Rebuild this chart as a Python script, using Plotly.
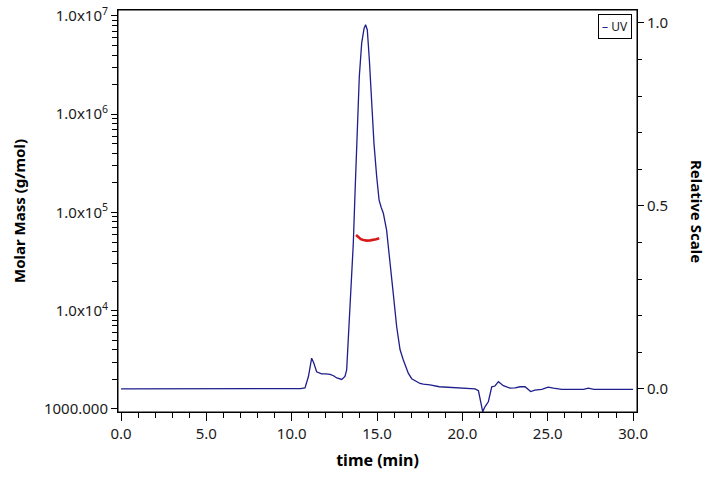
import plotly.graph_objects as go

# UV trace (relative scale, right axis)
uv_time = [0.0, 2.0, 4.0, 6.0, 8.0, 9.9, 10.5, 10.78, 10.98, 11.17, 11.3, 11.46, 11.75, 12.0,
           12.25, 12.45, 12.64, 12.93, 13.12, 13.22, 13.31, 13.42, 13.51, 13.61, 13.71, 13.81,
           13.96, 14.10, 14.24, 14.33, 14.43, 14.55, 14.69, 14.82, 14.98, 15.12, 15.25, 15.37,
           15.56, 15.76, 15.95, 16.15, 16.35, 16.54, 16.83, 17.03, 17.22, 17.52, 17.71, 18.1,
           18.65, 19.2, 19.86, 20.45, 20.74, 20.94, 21.03, 21.19, 21.33, 21.52, 21.72, 21.91,
           22.11, 22.4, 22.79, 23.09, 23.38, 23.67, 24.0, 24.25, 24.65, 25.03, 25.33, 25.82,
           26.5, 27.1, 27.38, 27.7, 28.5, 29.3, 30.0]
uv_value = [0.0, 0.0, 0.0, 0.0, 0.0, 0.0, 0.001, 0.003, 0.034, 0.084, 0.07, 0.047, 0.041, 0.041,
            0.040, 0.036, 0.030, 0.026, 0.034, 0.052, 0.125, 0.216, 0.307, 0.398, 0.535, 0.671,
            0.853, 0.945, 0.985, 0.995, 0.981, 0.899, 0.762, 0.671, 0.58, 0.516, 0.495, 0.48,
            0.434, 0.352, 0.261, 0.17, 0.107, 0.079, 0.043, 0.028, 0.022, 0.015, 0.013, 0.011,
            0.006, 0.004, 0.002, 0.001, 0.0, -0.005, -0.03, -0.062, -0.048, -0.035, 0.006, 0.008,
            0.02, 0.009, 0.002, 0.003, 0.006, 0.006, -0.007, -0.003, -0.001, 0.005, 0.002, -0.001,
            -0.001, -0.001, 0.002, -0.001, -0.001, -0.001, -0.001]

# molar mass across the main peak (left log axis)
mm_time = [13.77, 13.9, 14.05, 14.2, 14.4, 14.6, 14.78, 14.95, 15.13]
mm_value = [5.9e4, 5.6e4, 5.35e4, 5.25e4, 5.17e4, 5.2e4, 5.25e4, 5.35e4, 5.46e4]

mm_ticks = [1e3, 1e4, 1e5, 1e6, 1e7]
mm_ticktext = ["1000.000", "1.0x10<sup>4</sup>", "1.0x10<sup>5</sup>",
               "1.0x10<sup>6</sup>", "1.0x10<sup>7</sup>"]
mm_minor = [m * 10 ** k for k in range(3, 7) for m in range(2, 10)]

font_name = "Noto Sans"
navy = "#1e1e8c"

fig = go.Figure()
fig.add_trace(go.Scatter(x=uv_time, y=uv_value, mode="lines", name="UV",
                         line=dict(color=navy, width=1.3), yaxis="y2"))
fig.add_trace(go.Scatter(x=mm_time, y=mm_value, mode="lines", name="Molar Mass",
                         line=dict(color="#d81818", width=2.6), yaxis="y"))

fig.update_layout(
    width=720, height=479,
    margin=dict(l=118, r=83, t=10, b=67),
    paper_bgcolor="white", plot_bgcolor="white",
    showlegend=False,
    font=dict(family=font_name, size=15, color="#1a1a1a"),
    xaxis=dict(
        range=[-0.176, 30.23], tickvals=[0, 5, 10, 15, 20, 25, 30], tickformat=".1f",
        showline=True, linecolor="black", linewidth=1, mirror=True, automargin=False,
        ticks="outside", ticklen=8, tickcolor="black", showgrid=False, zeroline=False,
        minor=dict(dtick=1, tick0=0, ticks="outside", ticklen=5, tickcolor="black", showgrid=False),
        title=dict(text="<b>time (min)</b>", font=dict(size=16, color="black"), standoff=12),
    ),
    yaxis=dict(
        type="log", range=[2.969, 7.061],
        tickvals=mm_ticks, ticktext=mm_ticktext, automargin=False,
        showline=True, linecolor="black", linewidth=1,
        ticks="outside", ticklen=6, tickcolor="black", showgrid=False, zeroline=False,
        minor=dict(tickvals=mm_minor, ticks="outside", ticklen=5, tickcolor="black", showgrid=False),
        title=dict(text="<b>Molar Mass (g/mol)</b>", font=dict(size=15, color="black"), standoff=14),
    ),
    yaxis2=dict(
        overlaying="y", side="right", range=[-0.063, 1.0355],
        tickvals=[0.0, 0.5, 1.0], tickformat=".1f", automargin=False,
        showline=True, linecolor="black", linewidth=1,
        ticks="outside", ticklen=6, tickcolor="black", showgrid=False, zeroline=False,
        minor=dict(dtick=0.1, tick0=0, ticks="outside", ticklen=4, tickcolor="black", showgrid=False),
    ),
)

# plot frame (top edge)
fig.add_shape(type="rect", xref="paper", yref="paper", x0=0, x1=1, y0=0, y1=1,
              line=dict(color="black", width=1), layer="above")

fig.add_annotation(text="<b>Relative Scale</b>", textangle=90, xref="paper", yref="paper",
                   x=1.0, y=0.5, xanchor="center", yanchor="middle", xshift=60,
                   showarrow=False, font=dict(size=15, color="black"))

# legend box
fig.add_annotation(text="<span style='color:%s'>–</span> UV" % navy, xref="paper", yref="paper",
                   x=0.99, y=0.99, xanchor="right", yanchor="top", showarrow=False,
                   bordercolor="black", borderwidth=1, borderpad=3, bgcolor="white",
                   font=dict(size=12, color="#1a1a1a"))

fig.write_html("out.html", config={"displayModeBar": False},
               post_script="document.body.style.margin='0';")
